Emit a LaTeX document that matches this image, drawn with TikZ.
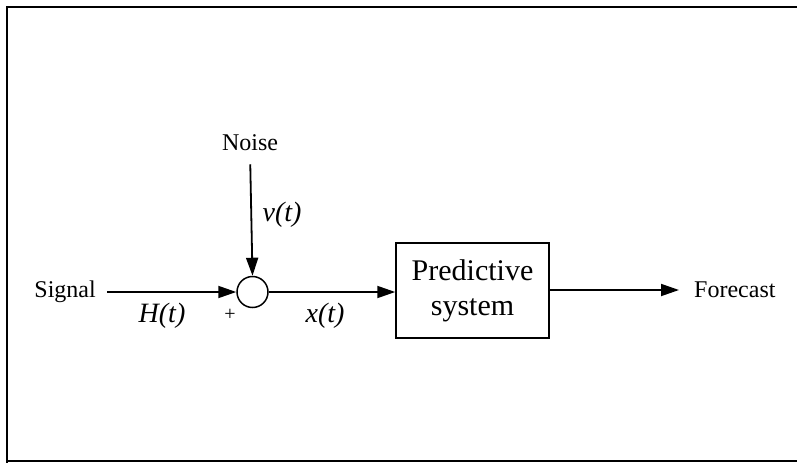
\documentclass[tikz,border=0pt]{standalone}
\usepackage{fontspec}
\setmainfont{Liberation Serif}
\usetikzlibrary{arrows.meta}
\begin{document}
\begin{tikzpicture}[x=1pt,y=-1pt,
  txt/.style={font=\fontsize{24}{26}\selectfont, inner sep=0pt},
  lbl/.style={font=\fontsize{28}{30}\selectfont\itshape, inner sep=0pt},
  arr/.style={line width=1.8pt, -{Triangle[length=18pt,width=12pt]}},
  frame/.style={line width=2.5pt}]
\useasboundingbox (0,0) rectangle (797,463);
% frame
\draw[frame] (797,7) -- (7,7) -- (7,463);
\draw[frame] (7,461) -- (797,461);
% nodes
\node[txt] (noise) at (250,143) {Noise};
\node[draw, circle, line width=1.5pt, minimum size=31pt, inner sep=0pt] (sum) at (252.5,292) {};
\node[txt, anchor=east] (signal) at (96,292) {Signal};
\node[draw, line width=1.5pt, minimum width=153pt, minimum height=95pt, inner sep=0pt,
      align=center, font=\fontsize{30}{35}\selectfont] (box) at (472.5,290.5) {Predictive\\system};
\node[txt, anchor=west] (forecast) at (694,290) {Forecast};
% labels
\node[lbl] (vt) at (282,215) {v(t)};
\node[lbl] (Ht) at (162,316) {H(t)};
\node[font=\fontsize{20}{22}\selectfont, inner sep=0pt] (plus) at (230,315) {+};
\node[lbl] (xt) at (325,316) {x(t)};
% connectors
\draw[arr, shorten <=11pt] (signal.east) -- (sum.west);
\draw[arr, shorten <=13pt] (noise.south) -- (sum.north);
\draw[arr] (sum.east) -- (box.west |- sum.east);
\draw[arr, shorten >=15pt] (box.east |- forecast.west) -- (forecast.west);
\end{tikzpicture}
\end{document}
